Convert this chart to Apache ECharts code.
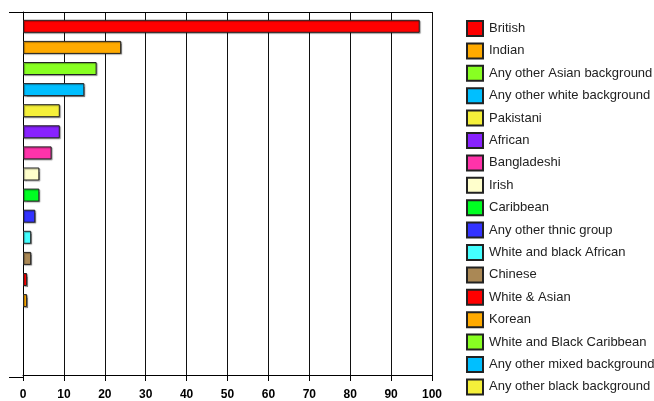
<!DOCTYPE html>
<html>
<head>
<meta charset="utf-8">
<script src="https://cdn.jsdelivr.net/npm/echarts@6/dist/echarts.min.js"></script>
<style>
html,body{margin:0;padding:0;background:#fff;}
#chart{width:654px;height:401px;}
</style>
</head>
<body>
<div id="chart"></div>
<script>
var categories = ["British","Indian","Any other Asian background","Any other white background","Pakistani","African","Bangladeshi","Irish","Caribbean","Any other thnic group","White and black African","Chinese","White & Asian","Korean","White and Black Caribbean","Any other mixed background","Any other black background"];
var values = [97,24,18,15,9,9,7,4,4,3,2,2,1,1,0,0,0];
var colors = ["#FF0000","#FFAA00","#88FF22","#00BFFF","#F5F03A","#8822FF","#FF33AA","#FFFFCC","#00FF22","#3333FF","#44FFFF","#AA8855","#FF0000","#FFAA00","#88FF22","#00BFFF","#F5F03A"];
var xTicks = [0,10,20,30,40,50,60,70,80,90,100];

var chart = echarts.init(document.getElementById('chart'));
var series = categories.map(function(name, i){
  var d = categories.map(function(c, j){ return (j === i && values[i] !== 0) ? values[i] : '-'; });
  return {
    name: name,
    type: 'bar',
    stack: 'all',
    xAxisIndex: 2,
    yAxisIndex: 1,
    data: d,
    barWidth: 13,
    itemStyle: {
      color: colors[i],
      borderColor: '#222',
      borderWidth: 1,
      shadowColor: 'rgba(0,0,0,0.35)',
      shadowOffsetX: 1,
      shadowOffsetY: 1,
      shadowBlur: 1
    }
  };
});

chart.setOption({
  animation: false,
  backgroundColor: '#fff',
  grid: [
    {left: 23, top: 12, right: 222, bottom: 23, containLabel: false},
    {left: 23, top: 15.75, right: 222, bottom: 26.55, containLabel: false}
  ],
  xAxis: [{
    gridIndex: 0,
    type: 'value', min: xTicks[0], max: xTicks[xTicks.length-1], interval: 10,
    axisLine: {show: true, lineStyle: {color: '#000', width: 1}},
    axisTick: {show: true, length: 6, lineStyle: {color: '#000'}},
    axisLabel: {color: '#000', fontWeight: 'bold', fontSize: 12, fontFamily: 'Liberation Sans, Arial', margin: 14},
    splitLine: {show: true, lineStyle: {color: '#111', width: 1}}
  },{
    gridIndex: 0,
    type: 'value', position: 'top', min: xTicks[0], max: xTicks[xTicks.length-1],
    axisLine: {show: true, lineStyle: {color: '#000', width: 1}},
    axisTick: {show: false}, axisLabel: {show: false}, splitLine: {show: false}
  },{
    gridIndex: 1,
    type: 'value', min: xTicks[0], max: xTicks[xTicks.length-1],
    show: false
  }],
  yAxis: [{
    gridIndex: 0,
    type: 'category', data: categories, inverse: true,
    axisLine: {show: true, lineStyle: {color: '#000', width: 1}},
    axisTick: {show: false}, axisLabel: {show: false}, splitLine: {show: false}
  },{
    gridIndex: 1,
    type: 'category', data: categories, inverse: true, show: false
  }],
  legend: {
    orient: 'vertical', left: 466, top: 20, padding: 0,
    itemWidth: 16, itemHeight: 15, itemGap: 5.4,
    icon: 'rect',
    textStyle: {fontSize: 13, lineHeight: 15, color: '#222', fontFamily: 'Liberation Sans, Arial', padding: [0,0,0,1]},
    data: categories
  },
  graphic: [
    {type: 'line', shape: {x1: 9, y1: 12.5, x2: 23, y2: 12.5}, style: {stroke: '#000', lineWidth: 1}},
    {type: 'line', shape: {x1: 9, y1: 377.5, x2: 23, y2: 377.5}, style: {stroke: '#000', lineWidth: 1}}
  ],
  series: series
});
</script>
</body>
</html>
